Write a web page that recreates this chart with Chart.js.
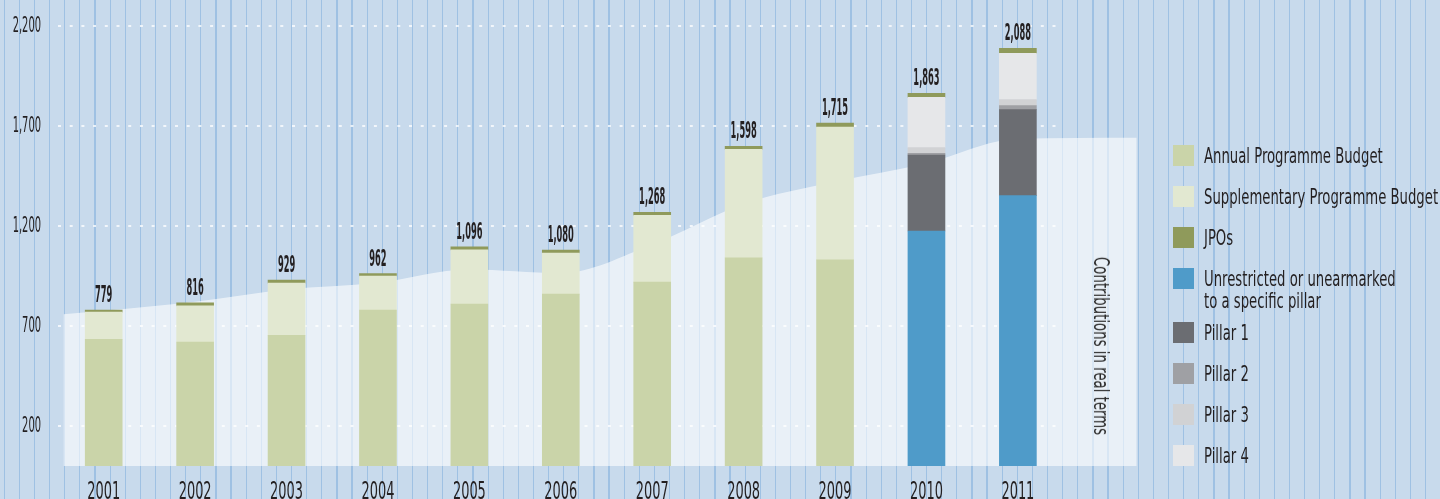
<!DOCTYPE html>
<html>
<head>
<meta charset="utf-8">
<script src="https://cdn.jsdelivr.net/npm/chart.js@4.4.1/dist/chart.umd.min.js"></script>
<style>
  html, body { margin: 0; padding: 0; }
  body {
    width: 1440px; height: 499px; overflow: hidden; position: relative;
    background-color: #c8daec;
    background-image: repeating-linear-gradient(90deg, transparent 0 3.7px, #9fc1e3 3.7px 4.9px, transparent 4.9px 15.12px);
    font-family: "DejaVu Sans Condensed", sans-serif;
    color: #231f20;
  }
  #wrap { position: absolute; left: 0; top: 0; width: 1440px; height: 499px; }
  #legend { position: absolute; left: 1173px; top: 145px; }
  .item { display: flex; align-items: flex-start; height: 22px; margin-bottom: 19px; }
  .item.two { height: 44px; margin-bottom: 10px; }
  .box { width: 21px; height: 21px; flex: none; margin-right: 10px; }
  .label { font-size: 21px; line-height: 22px; white-space: pre; transform: scaleX(0.70); transform-origin: left center; }
  #sideTitle {
    position: absolute; left: 1101px; top: 346px; font-size: 21px; white-space: nowrap; color: #2b2b2b;
    transform: translate(-50%, -50%) rotate(90deg) scaleX(0.705);
  }
</style>
</head>
<body>
<div id="wrap"><canvas id="myChart"></canvas></div>
<div id="legend"></div>
<div id="sideTitle"></div>
<script>
// years on the x axis
const years = [2001, 2002, 2003, 2004, 2005, 2006, 2007, 2008, 2009, 2010, 2011];

// stacked bar values (USD millions)
const annualBudget  = [633, 620, 653, 780, 809, 859, 919, 1041, 1031, null, null];
const supplementary = [136, 181, 261, 169, 272, 206, 334, 542, 664, null, null];
const jpos          = [10, 15, 15, 13, 15, 15, 15, 15, 20, 20, 25];
const unrestricted  = [null, null, null, null, null, null, null, null, null, 1175, 1352];
const pillar1       = [null, null, null, null, null, null, null, null, null, 380, 430];
const pillar2       = [null, null, null, null, null, null, null, null, null, 8, 20];
const pillar3       = [null, null, null, null, null, null, null, null, null, 29, 30];
const pillar4       = [null, null, null, null, null, null, null, null, null, 251, 231];
const totals        = [779, 816, 929, 962, 1096, 1080, 1268, 1598, 1715, 1863, 2088];

// background area: contributions in real terms
const realYears = [2000.56, 2001, 2002, 2003, 2004, 2005, 2006, 2007, 2008, 2009, 2010, 2011, 2012.3];
const realTerms = [759, 776, 821, 882, 916, 982, 964, 1107, 1310, 1421, 1514, 1636, 1641];

const yTicks = [200, 700, 1200, 1700, 2200];

const seriesNames = ['Annual Programme Budget', 'Supplementary Programme Budget', 'JPOs',
    'Unrestricted or unearmarked\nto a specific pillar', 'Pillar 1', 'Pillar 2', 'Pillar 3', 'Pillar 4'];
const seriesColors = ['#cad4a9', '#e2e8d1', '#8f9a5b', '#4f9bc9', '#6b6d72', '#9fa0a4', '#d1d2d4', '#e6e7e9'];
const seriesValues = [annualBudget, supplementary, jpos, unrestricted, pillar1, pillar2, pillar3, pillar4];
const stackOrder = [0, 1, 3, 4, 5, 6, 7, 2]; // bottom to top, JPOs always on top
const realLabel = 'Contributions in real terms';

const textColor = '#231f20';
const narrowFont = '"DejaVu Sans Condensed", sans-serif';

function points(xs, ys) {
    return xs.map((x, i) => ({ x: x, y: ys[i] }));
}

const datasets = stackOrder.map(k => ({
    type: 'bar',
    label: seriesNames[k],
    data: points(years, seriesValues[k]),
    backgroundColor: seriesColors[k],
    stack: 'total',
    barThickness: 37,
    order: 0
}));
datasets.push({
    type: 'line',
    label: realLabel,
    data: points(realYears, realTerms),
    fill: 'origin',
    backgroundColor: 'rgba(255,255,255,0.6)',
    borderWidth: 0,
    pointRadius: 0,
    cubicInterpolationMode: 'monotone',
    order: 1
});

// the original uses a very condensed face; squeeze the axis labels horizontally
// (year labels are centred, value labels right aligned)
const condensedText = {
    id: 'condensedText',
    beforeDraw(chart) {
        const ctx = chart.ctx;
        const plain = CanvasRenderingContext2D.prototype.fillText;
        ctx.fillText = function (text, x, y) {
            const squeeze = this.textAlign === 'center' ? 0.6 : 0.5;
            this.save();
            this.translate(x, y);
            this.scale(squeeze, 1);
            plain.call(this, text, 0, 0);
            this.restore();
        };
    },
    beforeDatasetsDraw(chart) {
        delete chart.ctx.fillText;
    }
};

// white dotted horizontal lines, only over the years part
const dottedGrid = {
    id: 'dottedGrid',
    beforeDatasetsDraw(chart) {
        const { ctx, chartArea, scales } = chart;
        const xEnd = scales.x.getPixelForValue(years[years.length - 1] + 0.5);
        ctx.save();
        ctx.strokeStyle = '#ffffff';
        ctx.lineWidth = 1.6;
        ctx.setLineDash([3, 8.7]);
        scales.y.ticks.forEach(t => {
            const y = Math.round(scales.y.getPixelForValue(t.value));
            ctx.beginPath();
            ctx.moveTo(chartArea.left, y);
            ctx.lineTo(xEnd, y);
            ctx.stroke();
        });
        ctx.restore();
    }
};

// total above each bar
const totalLabels = {
    id: 'totalLabels',
    afterDatasetsDraw(chart) {
        const ctx = chart.ctx;
        const topMeta = chart.getDatasetMeta(stackOrder.indexOf(2));
        ctx.save();
        ctx.fillStyle = textColor;
        ctx.font = 'bold 23px ' + narrowFont;
        ctx.textAlign = 'center';
        ctx.textBaseline = 'alphabetic';
        topMeta.data.forEach((bar, i) => {
            ctx.save();
            ctx.translate(bar.x, bar.y - 8);
            ctx.scale(0.4, 1);
            ctx.fillText(totals[i].toLocaleString('en-US'), 0, 0);
            ctx.restore();
        });
        ctx.restore();
    }
};

const ctx = document.getElementById('myChart').getContext('2d');
const myChart = new Chart(ctx, {
    type: 'bar',
    data: { datasets: datasets },
    options: {
        responsive: true,
        maintainAspectRatio: false,
        animation: false,
        layout: { padding: { left: 0, top: 0, right: 285, bottom: 0 } },
        plugins: {
            legend: { display: false },
            tooltip: { enabled: false }
        },
        scales: {
            x: {
                type: 'linear',
                offset: false,
                min: 2000.5,
                max: 2012.5,
                grid: { display: false, drawTicks: false },
                border: { display: false },
                afterBuildTicks: s => { s.ticks = years.map(v => ({ value: v })); },
                afterFit: s => { s.height = 33; s.paddingLeft = 0; s.paddingRight = 0; },
                ticks: {
                    autoSkip: false,
                    maxRotation: 0,
                    padding: 12,
                    color: textColor,
                    font: { family: narrowFont, size: 24 },
                    callback: v => String(v)
                }
            },
            y: {
                min: 0,
                max: 2330,
                grid: { display: false, drawTicks: false },
                border: { display: false },
                afterBuildTicks: s => { s.ticks = yTicks.map(v => ({ value: v })); },
                afterFit: s => { s.width = 58; s.paddingTop = 0; s.paddingBottom = 0; },
                ticks: {
                    padding: 17,
                    color: textColor,
                    font: { family: narrowFont, size: 22 },
                    callback: v => v.toLocaleString('en-US')
                }
            }
        }
    },
    plugins: [condensedText, dottedGrid, totalLabels]
});

// legend on the right
const legendBox = document.getElementById('legend');
seriesNames.forEach((name, k) => {
    const item = document.createElement('div');
    item.className = name.indexOf('\n') >= 0 ? 'item two' : 'item';
    const box = document.createElement('span');
    box.className = 'box';
    box.style.background = seriesColors[k];
    const label = document.createElement('span');
    label.className = 'label';
    label.textContent = name;
    item.appendChild(box);
    item.appendChild(label);
    legendBox.appendChild(item);
});

document.getElementById('sideTitle').textContent = realLabel;
</script>
</body>
</html>
